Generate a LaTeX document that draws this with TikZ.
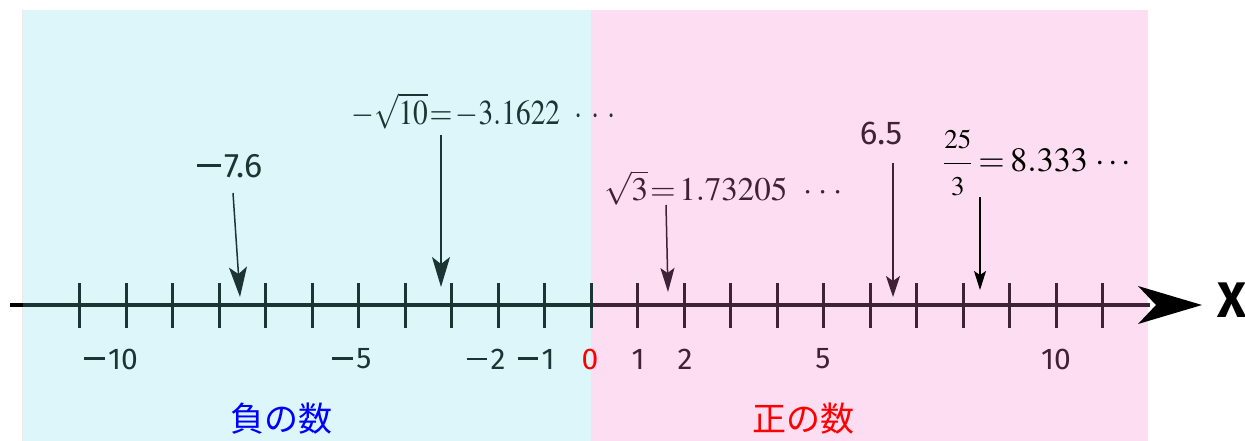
\documentclass[tikz,border=0pt]{standalone}
\usepackage{mathptmx}
\usepackage{amsmath}
\usepackage{graphicx}
\usepackage[no-math]{fontspec}
\setmainfont{Fira Sans}
\newfontfamily\jpfont{Noto Sans CJK JP}
\usetikzlibrary{arrows.meta}
\definecolor{bgblue}{HTML}{DDF6F9}
\definecolor{bgpink}{HTML}{FDDDF2}
\definecolor{darkL}{HTML}{1C3434}
\definecolor{darkR}{HTML}{3E2237}
\definecolor{bordergray}{HTML}{EEEAEA}
\newcommand\mminus{\raisebox{0.3em}{\rule{0.68em}{0.085em}}\hspace{0.12em}}
\newcommand\bigdot{{\boldsymbol{\cdot}}}
\tikzset{
  ticklbl/.style={font=\fontsize{30}{30}\selectfont, inner sep=0pt},
  numlbl/.style={font=\fontsize{34}{34}\selectfont, inner sep=0pt},
  mathlbl/.style={inner sep=0pt, anchor=west},
  ptr/.style={line width=1.5pt},
  jplbl/.style={font=\jpfont\fontsize{34}{34}\selectfont, inner sep=0pt},
}
\begin{document}
\begin{tikzpicture}[x=1pt,y=-1pt]
\useasboundingbox (0,0) rectangle (1245,441);
% backgrounds
\fill[bgblue, draw=bordergray, line width=0.8pt] (22,10) rectangle (591,441);
\fill[bgpink, draw=bordergray, line width=0.8pt] (591,10) rectangle (1147,441);
\fill[bgblue] (22.5,10.5) rectangle (591,441);
\fill[bgpink] (591,10.5) rectangle (1146.5,441);
% axis
\draw[line width=4pt, black] (10,305) -- (23,305);
\draw[line width=4pt, darkL] (23,305) -- (591,305);
\draw[line width=4pt, darkR] (591,305) -- (1150,305);
\fill[black] (1202,305) -- (1138,286) -- (1156,305) -- (1138,324) -- cycle;
\node[font=\fontsize{50}{50}\selectfont\bfseries, inner sep=0pt] (xl) at (1232,300) {X};
% ticks
\foreach \i in {-11,...,0} {
  \draw[line width=3pt, darkL] ({591+46.5*\i},283) -- ({591+46.5*\i},328);
}
\foreach \i in {1,...,11} {
  \draw[line width=3pt, darkR] ({591+46.5*\i},283) -- ({591+46.5*\i},328);
}
% tick labels
\node[ticklbl, text=darkL] (m10) at (111,359) {\mminus10};
\node[ticklbl, text=darkL] (m5) at (352,359) {\mminus5};
\node[ticklbl, text=darkL] (m2) at (486,359) {\mminus2};
\node[ticklbl, text=darkL] (m1) at (536,359) {\mminus1};
\node[ticklbl, text=red] (z) at (590,359) {0};
\node[ticklbl, text=darkR] (p1) at (638,359) {1};
\node[ticklbl, text=darkR] (p2) at (685,359) {2};
\node[ticklbl, text=darkR] (p5) at (823,359) {5};
\node[ticklbl, text=darkR] (p10) at (1056,359) {10};
% region labels
\node[jplbl, text=blue] (neg) at (281,419) {負の数};
\node[jplbl, text=red] (pos) at (803,419) {正の数};
% value labels
\node[numlbl, text=darkL] (l76) at (230,166) {\mminus7.6};
\node[mathlbl, text=darkL] (lsq10) at (351,111) {\scalebox{0.84}[1]{\fontsize{35}{35}\selectfont$-\sqrt{10}\mkern1mu{=}\mkern2mu{-}3.1622\mkern9mu\bigdot\mkern5mu\bigdot\mkern5mu\bigdot$}};
\node[mathlbl, text=darkR] (lsq3) at (604,188) {\fontsize{33}{33}\selectfont$\sqrt{3}\mkern1mu{=}\mkern2mu1.73205\mkern9mu\bigdot\mkern3mu\bigdot\mkern3mu\bigdot$};
\node[numlbl, text=darkR, font=\fontsize{33}{33}\selectfont] (l65) at (881,133) {6.5};
\node[mathlbl, text=black] (l253) at (943,163) {\fontsize{34}{34}\selectfont$\dfrac{\mbox{\fontsize{27}{27}\selectfont$25$}}{\mbox{\fontsize{27}{27}\selectfont$3$}}\mkern3mu{=}\mkern3mu8.333\mkern4mu{\cdots}$};
% pointer endpoints
\coordinate (s76) at (233,193);
\coordinate (t76) at (240,297);
\coordinate (s10) at (441,135);
\coordinate (t10) at (441,287);
\coordinate (s3) at (666,205);
\coordinate (t3) at (668,292);
\coordinate (s65) at (893,163);
\coordinate (t65) at (893,297);
\coordinate (s253) at (980,197);
\coordinate (t253) at (980,290);
\draw[ptr, darkL, -{Stealth[length=30pt,width=18pt,inset=7pt]}] (s76) -- (t76);
\draw[ptr, darkL, -{Stealth[length=30pt,width=18pt,inset=7pt]}] (s10) -- (t10);
\draw[ptr, darkR, -{Stealth[length=24pt,width=14pt,inset=5pt]}] (s3) -- (t3);
\draw[ptr, darkR, -{Stealth[length=21pt,width=14pt,inset=5pt]}] (s65) -- (t65);
\draw[ptr, black, -{Stealth[length=19pt,width=12pt,inset=4pt]}] (s253) -- (t253);
\end{tikzpicture}
\end{document}
